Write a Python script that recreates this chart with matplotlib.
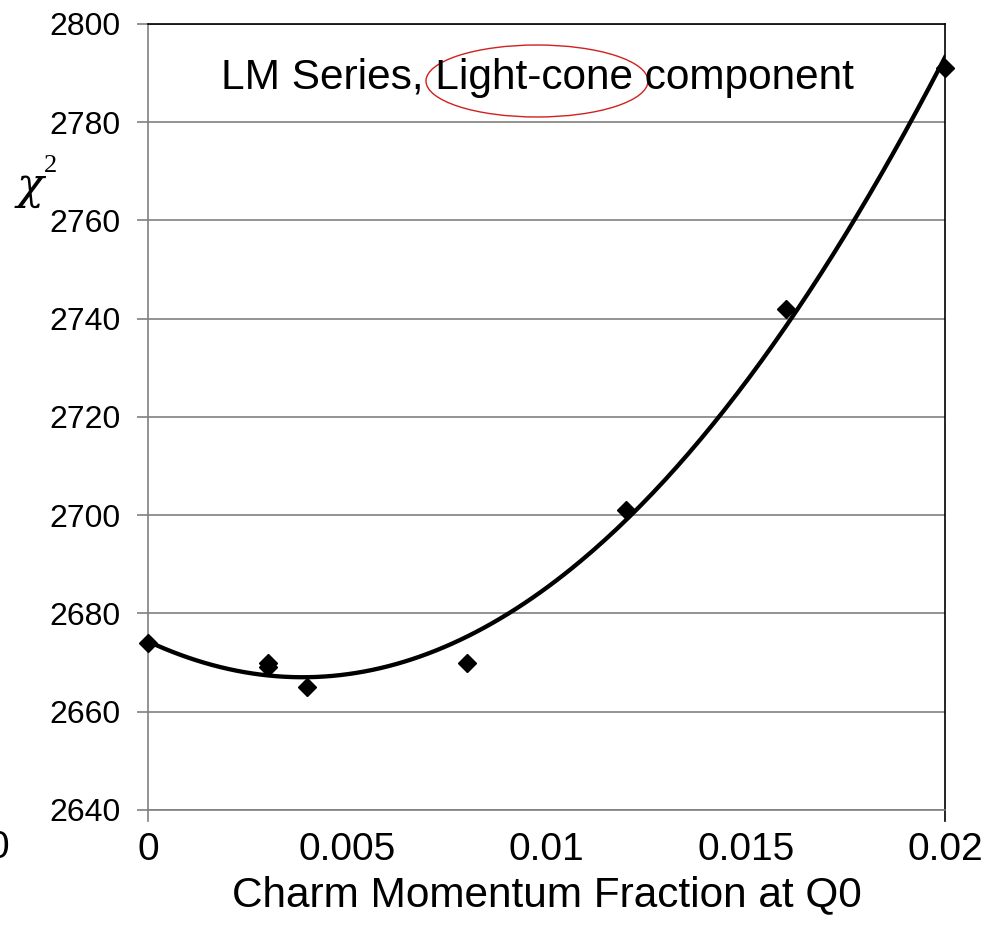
import numpy as np
import matplotlib
matplotlib.use('Agg')
import matplotlib.pyplot as plt
from matplotlib.patches import Ellipse

# data
charm_frac = [0.0, 0.003, 0.003, 0.004, 0.008, 0.012, 0.016, 0.02]
chi2 = [2674, 2670, 2669, 2665, 2670, 2701, 2742, 2791]

yticks = [2640, 2660, 2680, 2700, 2720, 2740, 2760, 2780, 2800]
xticks = [0, 0.005, 0.01, 0.015, 0.02]
xticklabels = ['0', '0.005', '0.01', '0.015', '0.02']

plt.rcParams['font.family'] = ['Liberation Sans', 'DejaVu Sans']

fig = plt.figure(figsize=(10, 9.38), dpi=100)
ax = fig.add_axes([0.148, 0.1365, 0.797, 0.838])

# quadratic trendline (like Excel's poly order 2)
coef = np.polyfit(charm_frac, chi2, 2)
xs = np.linspace(0, 0.02, 200)
ax.plot(xs, np.polyval(coef, xs), color='black', lw=3.1, zorder=3)
ax.plot(charm_frac, chi2, 'D', color='black', ms=9.5, zorder=4, clip_on=False)

ax.set_xlim(0, 0.02)
ax.set_ylim(2640, 2800)
ax.set_yticks(yticks)
ax.set_xticks(xticks)
ax.set_xticklabels(xticklabels)
ax.yaxis.grid(True, color='#808080', lw=1.2)
ax.set_axisbelow(True)

for s in ['left', 'bottom']:
    ax.spines[s].set_color('#808080')
    ax.spines[s].set_linewidth(1.2)
for s in ['top', 'right']:
    ax.spines[s].set_color('black')
    ax.spines[s].set_linewidth(1.2)

ax.tick_params(axis='y', direction='out', length=8, width=1.2, color='#808080',
               labelsize=23, pad=12)
ax.tick_params(axis='x', length=0, labelsize=28, pad=16)

# little tick stubs under the x axis at both ends
ax.plot([0, 0], [0, -0.014], transform=ax.transAxes, color='#808080', lw=1.2, clip_on=False)
ax.plot([1, 1], [0, -0.014], transform=ax.transAxes, color='black', lw=1.2, clip_on=False)

# stray clipped "0" at the very left edge
fig.text(-0.002, 1 - 848 / 938, '0', fontsize=28, ha='center', va='center')

ax.set_xlabel('Charm Momentum Fraction at Q0', fontsize=30.5, labelpad=5)

fig.text(0.017, 1 - 186 / 938, 'χ', fontsize=32, style='italic',
         family=['DejaVu Serif'], ha='left', va='center')
fig.text(0.044, 1 - 166 / 938, '2', fontsize=19, family=['Liberation Serif', 'DejaVu Serif'],
         ha='left', va='center')

fig.text(0.537, 1 - 78 / 938, 'LM Series, Light-cone component', fontsize=30.5,
         ha='center', va='center')
fig.patches.append(Ellipse((0.537, 1 - 81 / 938), 0.222, 72 / 938, transform=fig.transFigure,
                           fill=False, edgecolor='#d02020', lw=1.0))

fig.savefig('out.png', dpi=100)
